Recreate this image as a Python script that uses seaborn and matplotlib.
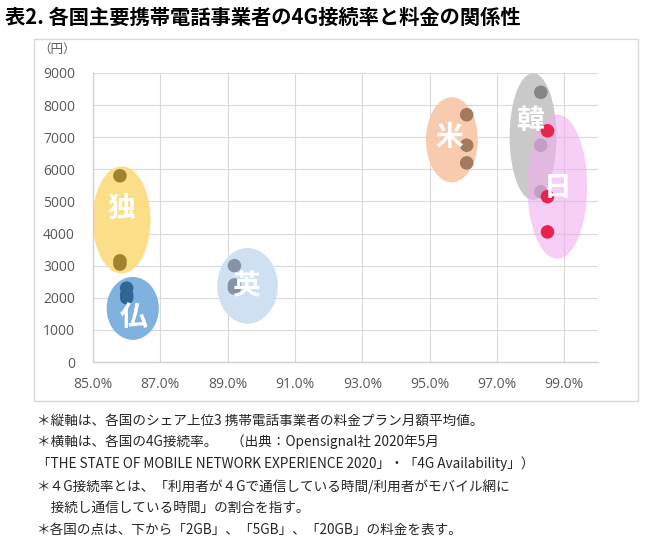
import numpy as np
import pandas as pd
import matplotlib
matplotlib.use("Agg")
import matplotlib.pyplot as plt
from matplotlib.patches import Ellipse, Rectangle
import seaborn as sns

# ---------------- data ----------------
countries = ["独", "仏", "英", "米", "韓", "日"]
rate_4g = [85.8, 86.0, 89.2, 96.1, 98.3, 98.5]          # 4G接続率 (%)
price_2gb = [3050, 2000, 2300, 6200, 5300, 4050]         # 円
price_5gb = [3150, 2100, 2400, 6750, 6750, 5150]
price_20gb = [5800, 2300, 3000, 7700, 8400, 7200]
x_ticks = [85, 87, 89, 91, 93, 95, 97, 99]
y_ticks = [0, 1000, 2000, 3000, 4000, 5000, 6000, 7000, 8000, 9000]
title = "表2. 各国主要携帯電話事業者の4G接続率と料金の関係性"
y_unit = "（円）"
notes = [
    "＊縦軸は、各国のシェア上位3 携帯電話事業者の料金プラン月額平均値。",
    "＊横軸は、各国の4G接続率。　（出典：Opensignal社 2020年5月",
    "「THE STATE OF MOBILE NETWORK EXPERIENCE 2020」・「4G Availability」）",
    "＊４G接続率とは、「利用者が４Gで通信している時間/利用者がモバイル網に",
    "　接続し通信している時間」の割合を指す。",
    "＊各国の点は、下から「2GB」、「5GB」、「20GB」の料金を表す。",
]

# ---------------- styles / layout ----------------
blob_color = {"独": "#FCDD88", "仏": "#7FB2DF", "英": "#CEE0F2",
              "米": "#F8CBAF", "韓": "#C9C9C9", "日": "#F0AEF0"}
blob_alpha = {"独": 1, "仏": 1, "英": 1, "米": 1, "韓": 1, "日": 0.6}
dot_color = {"独": "#A0822F", "仏": "#2F6696", "英": "#8494A4",
             "米": "#A37A5F", "韓": "#858585", "日": "#E8234C"}
# ellipse: (dx from point x, dy from mid of range, width %, extra height)
blob_geom = {"独": (0.05, 0, 1.72, 580), "仏": (0.18, -480, 1.55, 1660),
             "英": (0.39, -280, 1.80, 1660), "米": (-0.44, -30, 1.54, 1150),
             "韓": (-0.23, 170, 1.39, 850), "日": (0.29, -165, 1.78, 1340)}
label_off = {"独": (0, 310), "仏": (0.02, -300), "英": (-0.03, 0),
             "米": (-0.07, 60), "韓": (-0.1, 470), "日": (0, -40)}

sns.set_theme(style="whitegrid")
plt.rcParams["font.family"] = ["Noto Sans CJK JP", "DejaVu Sans"]

rows = []
for c, r, a, b, d in zip(countries, rate_4g, price_2gb, price_5gb, price_20gb):
    for plan, p in zip(["2GB", "5GB", "20GB"], [a, b, d]):
        rows.append({"country": c, "rate": r, "price": p, "plan": plan})
df = pd.DataFrame(rows)

fig = plt.figure(figsize=(6.5, 5.4), dpi=100)
ax = fig.add_axes([93 / 650, 1 - 362 / 540, (598 - 93) / 650, (362 - 73) / 540])

# outer frame
fig.patches.append(Rectangle((34 / 650, 1 - 401 / 540), 604 / 650, 362 / 540,
                             transform=fig.transFigure, fill=False,
                             edgecolor="#D9D9D9", lw=1.0))

for i, c in enumerate(countries):
    sub = df[df.country == c]
    dx, dy, w, hp = blob_geom[c]
    lo, hi = sub.price.min(), sub.price.max()
    cx = sub.rate.iloc[0] + dx
    cy = (lo + hi) / 2 + dy
    ax.add_patch(Ellipse((cx, cy), w, (hi - lo) + hp, facecolor=blob_color[c],
                         alpha=blob_alpha[c], edgecolor="none", zorder=2 + 2 * i))
    sns.scatterplot(data=sub, x="rate", y="price", color=dot_color[c], s=95,
                    edgecolor="none", ax=ax, zorder=3 + 2 * i, legend=False)
    lx, ly = label_off[c]
    ax.text(cx + lx, cy + ly, c, color="white", fontsize=20, fontweight="bold",
            ha="center", va="center", zorder=30)

ax.set_xlim(85, 100)
ax.set_ylim(0, 9000)
ax.set_xticks(x_ticks)
ax.set_xticklabels([f"{v:.1f}%" for v in x_ticks])
ax.set_yticks(y_ticks)
ax.set_yticklabels([str(v) for v in y_ticks])
ax.set_xlabel("")
ax.set_ylabel("")
ax.grid(True, color="#D9D9D9", lw=0.8)
ax.set_axisbelow(True)
for s in ["top", "right"]:
    ax.spines[s].set_visible(False)
for s in ["left", "bottom"]:
    ax.spines[s].set_visible(True)
    ax.spines[s].set_color("#D0D0D0")
    ax.spines[s].set_linewidth(1.0)
ax.tick_params(axis="both", length=0, colors="#595959", labelsize=10)
ax.tick_params(axis="x", pad=11)
ax.tick_params(axis="y", pad=13)
for lab in ax.get_xticklabels() + ax.get_yticklabels():
    lab.set_fontfamily(["Open Sans", "DejaVu Sans"])
ax.set_facecolor("white")

fig.text(57 / 650, 1 - 49 / 540, y_unit, fontsize=9, color="#595959",
         ha="center", va="center")
fig.text(5 / 650, 1 - 17 / 540, title, fontsize=14.6, fontweight="bold",
         color="black", ha="left", va="center")

note_y = [421, 442, 464, 487, 508, 530]
for t, yy in zip(notes, note_y):
    fig.text(37 / 650, 1 - yy / 540, t, fontsize=9.8, color="#262626",
             ha="left", va="center")

fig.savefig("out.png", dpi=100, facecolor="white")
